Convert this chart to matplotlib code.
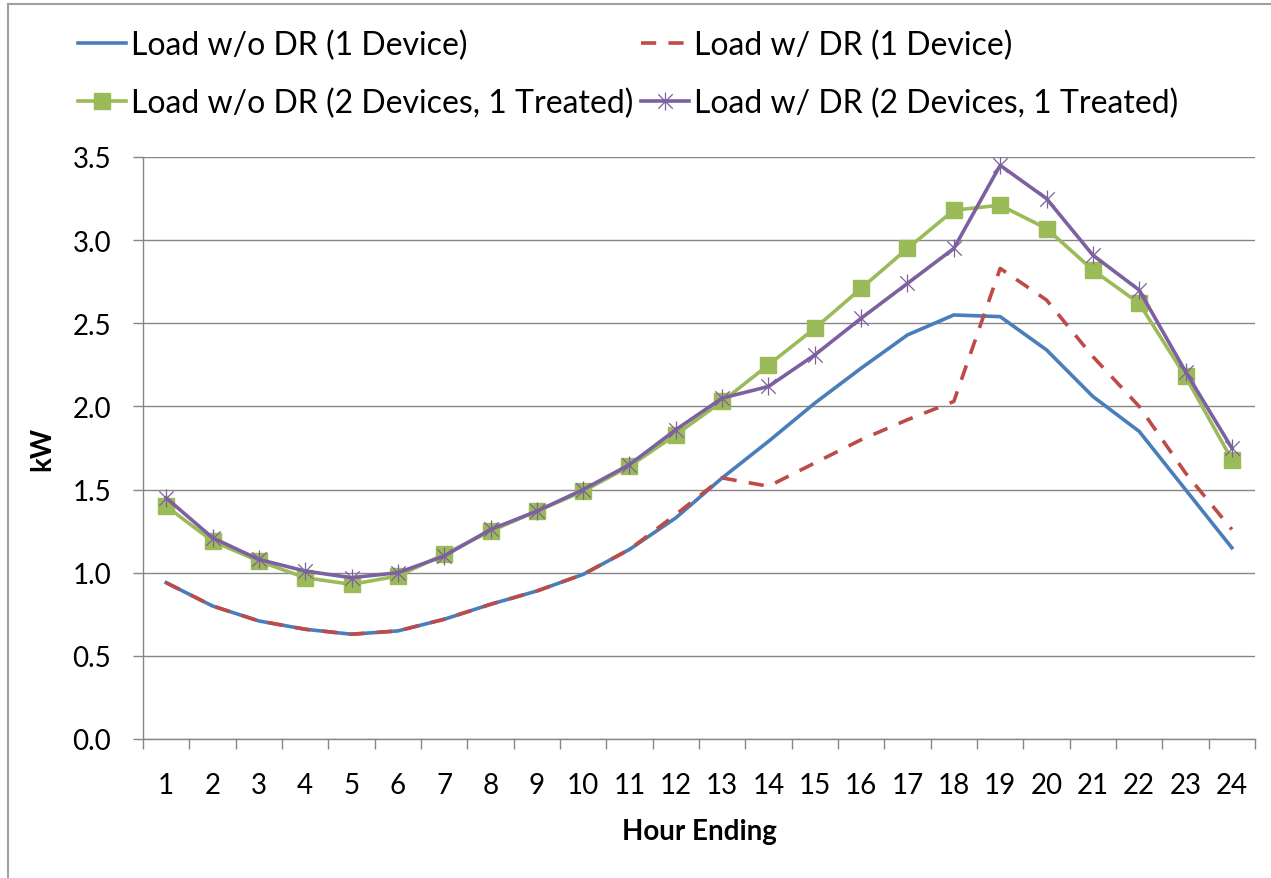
import matplotlib
matplotlib.use("Agg")
import matplotlib.pyplot as plt
from matplotlib.path import Path
from matplotlib.lines import Line2D
import numpy as np

plt.rcParams['font.family'] = ['Lato', 'DejaVu Sans']

hours = [str(h) for h in range(1, 25)]
load_no_dr_1 = [0.94, 0.80, 0.71, 0.66, 0.63, 0.65, 0.72, 0.81, 0.89, 0.99, 1.14, 1.33,
                1.57, 1.79, 2.02, 2.23, 2.43, 2.55, 2.54, 2.34, 2.06, 1.85, 1.50, 1.15]
load_dr_1 = [0.94, 0.80, 0.71, 0.66, 0.63, 0.65, 0.72, 0.81, 0.89, 0.99, 1.14, 1.35,
             1.57, 1.52, 1.66, 1.80, 1.92, 2.03, 2.83, 2.64, 2.30, 2.00, 1.60, 1.26]
load_no_dr_2 = [1.40, 1.19, 1.07, 0.97, 0.93, 0.98, 1.11, 1.25, 1.37, 1.49, 1.64, 1.83,
                2.03, 2.25, 2.47, 2.71, 2.95, 3.18, 3.21, 3.07, 2.82, 2.62, 2.18, 1.68]
load_dr_2 = [1.45, 1.21, 1.08, 1.01, 0.97, 1.00, 1.10, 1.26, 1.37, 1.50, 1.65, 1.86,
             2.05, 2.12, 2.31, 2.53, 2.74, 2.95, 3.45, 3.25, 2.91, 2.70, 2.21, 1.75]
labels = ["Load w/o DR (1 Device)", "Load w/ DR (1 Device)",
          "Load w/o DR (2 Devices, 1 Treated)", "Load w/ DR (2 Devices, 1 Treated)"]
y_ticks = [0.0, 0.5, 1.0, 1.5, 2.0, 2.5, 3.0, 3.5]

BLUE = "#4A7EBB"
RED = "#BE4B48"
GREEN = "#9BBB59"
PURPLE = "#7D60A0"
GRID = "#868686"

# Excel-style star marker: X plus vertical line
star = Path([(-1, -1), (1, 1), (-1, 1), (1, -1), (0, -1.25), (0, 1.25)],
            [Path.MOVETO, Path.LINETO, Path.MOVETO, Path.LINETO, Path.MOVETO, Path.LINETO])

fig = plt.figure(figsize=(12.71, 8.79), dpi=100)
ax = fig.add_axes([143/1271, 1-740/879, (1255-143)/1271, (740-158)/879])

LW = 2.6
x = np.arange(len(hours))
l1, = ax.plot(x, load_no_dr_1, color=BLUE, lw=LW, zorder=3)
l2, = ax.plot(x, load_dr_1, color=RED, lw=LW, ls=(0, (4.2, 3.4)), zorder=4)
l3, = ax.plot(x, load_no_dr_2, color=GREEN, lw=LW, marker='s', ms=11.5,
              mfc=GREEN, mec=GREEN, zorder=5)
l4, = ax.plot(x, load_dr_2, color=PURPLE, lw=LW, marker=star, ms=13,
              mfc='none', mec=PURPLE, mew=0.9, zorder=6)

ax.set_xlim(-0.5, len(hours) - 0.5)
ax.set_ylim(0, 3.5)
ax.set_yticks(y_ticks)
ax.set_yticklabels([f"{v:.1f}" for v in y_ticks])
ax.set_xticks(x)
ax.set_xticklabels(hours)
ax.set_xticks(np.arange(-0.5, len(hours)), minor=True)
ax.tick_params(axis='x', which='major', length=0, pad=24, labelsize=20, colors='black')
ax.tick_params(axis='x', which='minor', length=7, width=1, color=GRID, direction='out')
ax.tick_params(axis='y', which='major', length=7, width=1, color=GRID, pad=16,
               labelsize=20, labelcolor='black')

ax.grid(axis='y', color=GRID, lw=1)
ax.set_axisbelow(True)
for s in ['top', 'right']:
    ax.spines[s].set_visible(False)
for s in ['left', 'bottom']:
    ax.spines[s].set_color(GRID)
    ax.spines[s].set_linewidth(1)

ax.set_xlabel("Hour Ending", fontsize=20, fontweight='bold', labelpad=14)
ax.set_ylabel("kW", fontsize=20, fontweight='bold', labelpad=12)

leg = fig.legend([l1, l3, l2, l4], [labels[0], labels[2], labels[1], labels[3]],
                 ncol=2, loc='upper left', bbox_to_anchor=(78/1271, 1-31/879),
                 frameon=False, fontsize=23, handlelength=1.5, handletextpad=0.15,
                 columnspacing=0.25, labelspacing=0.85, borderaxespad=0, borderpad=0)

# outer chart border (left and top visible)
fig.add_artist(Line2D([8/1271, 8/1271], [0, 1-5/879], color="#A0A0A0", lw=1.5,
                      transform=fig.transFigure))
fig.add_artist(Line2D([8/1271, 1], [1-5/879, 1-5/879], color="#A0A0A0", lw=1.5,
                      transform=fig.transFigure))

fig.savefig("out.png", dpi=100)
